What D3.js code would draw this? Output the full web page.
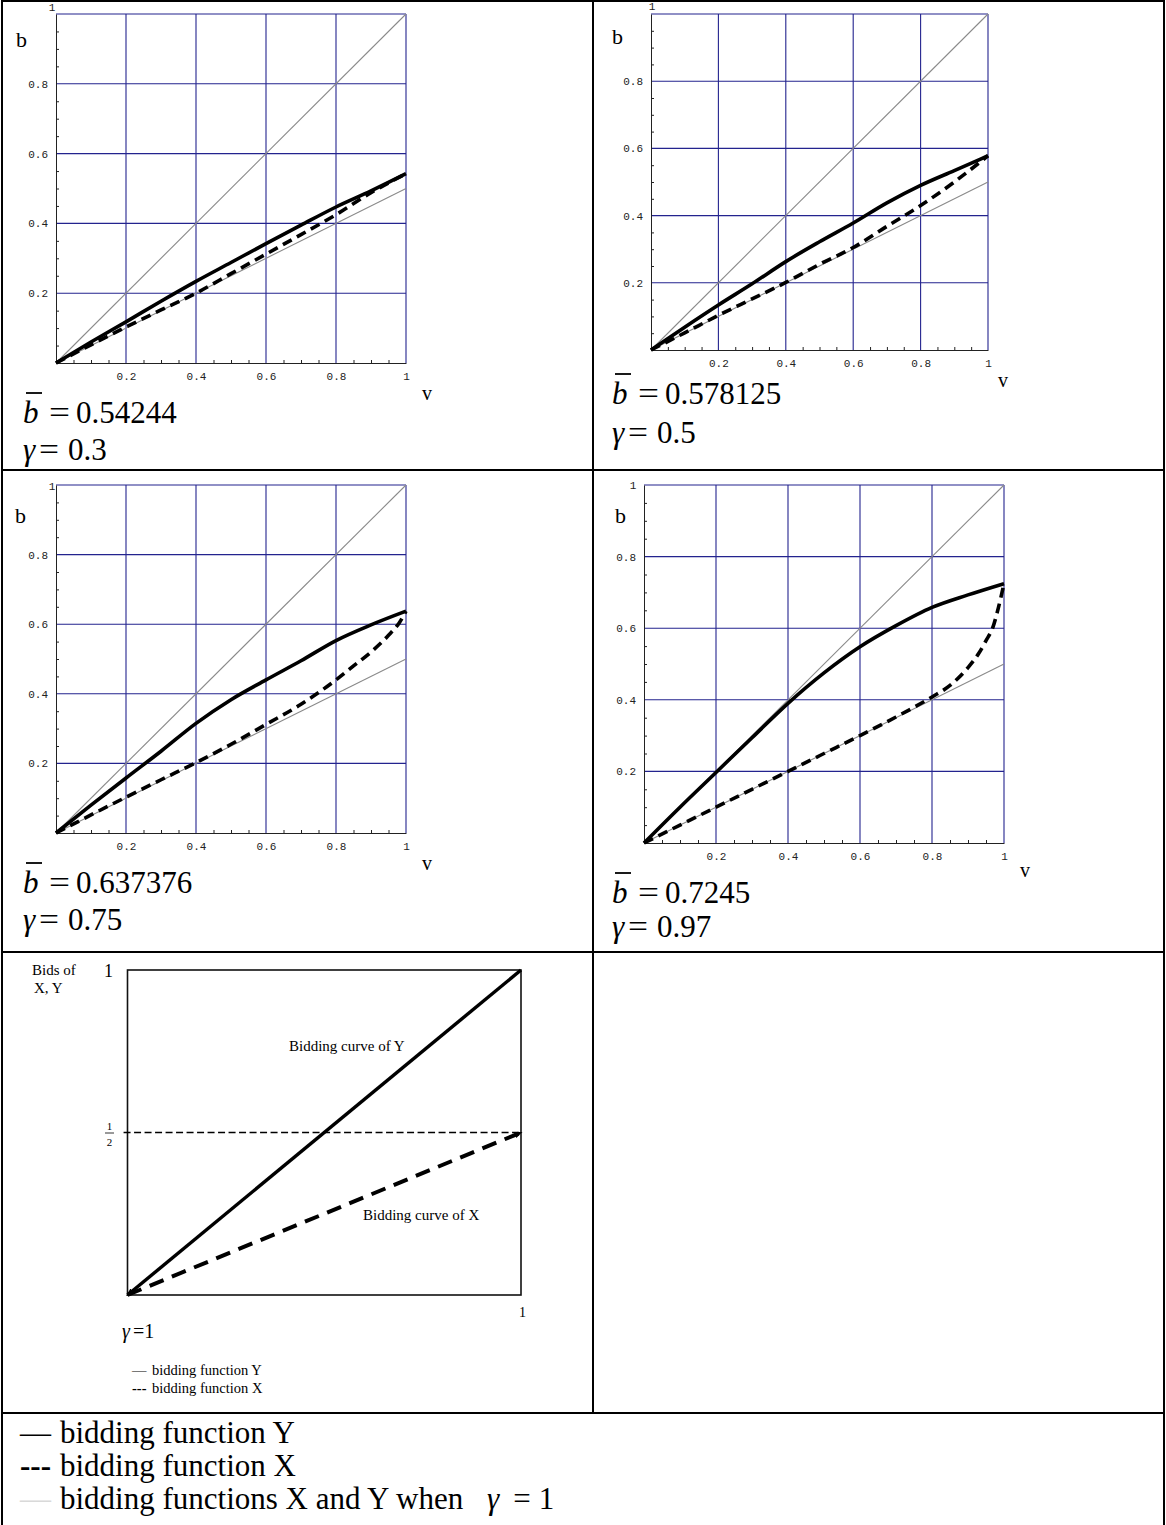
<!DOCTYPE html>
<html>
<head>
<meta charset="utf-8">
<script src="https://cdn.jsdelivr.net/npm/d3@7"></script>
<style>
body { margin: 0; background: #fff; }
svg text { font-family: "Liberation Serif", "Times New Roman", serif; fill: #000; }
.lbl text { font-family: "Liberation Mono", "Courier New", monospace; font-size: 11px; fill: #222; }
</style>
</head>
<body>
<svg id="chart" width="1166" height="1525"></svg>
<script>
// values
var gammaValues = ["0.3", "0.5", "0.75", "0.97"];
var bBarValues = ["0.54244", "0.578125", "0.637376", "0.7245"];

var majorTicks = [0.2, 0.4, 0.6, 0.8, 1];
var tickLabels = ["0.2", "0.4", "0.6", "0.8", "1"];
var minorTicks = [0.05, 0.1, 0.15, 0.25, 0.3, 0.35, 0.45, 0.5, 0.55, 0.65, 0.7, 0.75, 0.85, 0.9, 0.95];

// reference lines (gamma = 1): Y bids v, X bids v/2
var refY = [[0, 0], [1, 1]];
var refX = [[0, 0], [1, 0.5]];

var bidY_g030 = [[0,0],[0.1,0.06],[0.2,0.118],[0.3,0.177],[0.4,0.234],[0.5,0.288],[0.6,0.342],[0.7,0.395],[0.8,0.447],[0.9,0.493],[1,0.5424]];
var bidX_g030 = [[0,0],[0.1,0.052],[0.2,0.103],[0.3,0.152],[0.4,0.2],[0.5,0.256],[0.6,0.312],[0.7,0.368],[0.8,0.425],[0.9,0.488],[1,0.5424]];

var bidY_g050 = [[0,0],[0.1,0.068],[0.2,0.134],[0.3,0.197],[0.4,0.263],[0.5,0.322],[0.6,0.378],[0.7,0.438],[0.8,0.49],[0.9,0.534],[1,0.5781]];
var bidX_g050 = [[0,0],[0.1,0.051],[0.2,0.103],[0.3,0.152],[0.4,0.201],[0.5,0.255],[0.6,0.305],[0.7,0.368],[0.8,0.43],[0.9,0.5],[1,0.5781]];

var bidY_g075 = [[0,0],[0.1,0.08],[0.2,0.158],[0.3,0.235],[0.4,0.315],[0.5,0.383],[0.6,0.44],[0.7,0.495],[0.8,0.553],[0.9,0.598],[1,0.6374]];
var bidX_g075 = [[0,0],[0.1,0.052],[0.2,0.103],[0.3,0.153],[0.4,0.202],[0.5,0.255],[0.6,0.312],[0.7,0.37],[0.8,0.44],[0.85,0.48],[0.9,0.52],[0.95,0.568],[0.98,0.603],[1,0.6374]];

var bidY_g097 = [[0,0],[0.1,0.1],[0.2,0.197],[0.3,0.294],[0.4,0.39],[0.5,0.475],[0.6,0.548],[0.7,0.607],[0.8,0.658],[0.9,0.693],[1,0.7245]];
var bidX_g097 = [[0,0],[0.1,0.05],[0.2,0.1],[0.3,0.15],[0.4,0.2],[0.5,0.25],[0.6,0.3],[0.7,0.352],[0.8,0.408],[0.85,0.44],[0.9,0.49],[0.93,0.53],[0.95,0.565],[0.97,0.605],[0.98,0.64],[0.99,0.68],[1,0.7245]];

var bidsY = [bidY_g030, bidY_g050, bidY_g075, bidY_g097];
var bidsX = [bidX_g030, bidX_g050, bidX_g075, bidX_g097];

// gamma = 1 sketch
var limitY = [[0, 0], [1, 1]];
var limitX = [[0, 0], [1, 0.5]];
var halfLevel = [[-0.01, 0.5], [1, 0.5]];

var legendLabels = ["bidding function Y", "bidding function X", "bidding functions X and Y when"];

// layout of the table cells
var panelBoxes = [
	{left: 56, right: 406, bottom: 363, top: 14, one: [52, 7], b: [16, 47], v: [422, 400], eqX: 23, eqBase: 423, gBase: 460},
	{left: 651, right: 988, bottom: 350, top: 14, one: [652, 6], b: [612, 44], v: [998, 387], eqX: 612, eqBase: 404, gBase: 443},
	{left: 56, right: 406, bottom: 833, top: 485, one: [52, 486], b: [15, 523], v: [422, 870], eqX: 23, eqBase: 893, gBase: 930},
	{left: 644, right: 1004, bottom: 843, top: 485, one: [633, 485], b: [615, 523], v: [1020, 877], eqX: 612, eqBase: 903, gBase: 937}
];
var gridColor = "#23238e";

var svg = d3.select("#chart");

var drawPanel = function(i) {
	var p = panelBoxes[i];
	var x = d3.scaleLinear().domain([0, 1]).range([p.left, p.right]);
	var y = d3.scaleLinear().domain([0, 1]).range([p.bottom, p.top]);
	var g = svg.append("g");
	var line = d3.line().x(function(d) {return x(d[0]);}).y(function(d) {return y(d[1]);});
	var curve = d3.line().curve(d3.curveMonotoneX).x(function(d) {return x(d[0]);}).y(function(d) {return y(d[1]);});

	g.selectAll("line.gv").data(majorTicks).enter().append("line")
		.attr("x1", function(d) {return x(d);}).attr("x2", function(d) {return x(d);})
		.attr("y1", y(0)).attr("y2", y(1))
		.attr("stroke", gridColor).attr("stroke-width", 1.1);
	g.selectAll("line.gh").data(majorTicks).enter().append("line")
		.attr("y1", function(d) {return y(d);}).attr("y2", function(d) {return y(d);})
		.attr("x1", x(0)).attr("x2", x(1))
		.attr("stroke", gridColor).attr("stroke-width", 1.1);

	// axes with inward minor ticks
	g.append("g").attr("transform", "translate(" + x(0) + ",0)")
		.call(d3.axisRight(y).tickValues(minorTicks).tickSize(3).tickSizeOuter(0).tickFormat(""))
		.call(function(a) {a.selectAll("path,line").attr("stroke", "#222");});
	g.append("g").attr("transform", "translate(0," + y(0) + ")")
		.call(d3.axisTop(x).tickValues(minorTicks).tickSize(3).tickSizeOuter(0).tickFormat(""))
		.call(function(a) {a.selectAll("path,line").attr("stroke", "#222");});

	// tick labels
	g.append("g").attr("class", "lbl").attr("transform", "translate(" + x(0) + ",0)")
		.call(d3.axisLeft(y).tickValues(majorTicks.slice(0, 4)).tickSize(0).tickPadding(8)
			.tickFormat(function(d, k) {return tickLabels[k];}))
		.call(function(a) {a.select(".domain").remove(); a.attr("font-family", null).attr("font-size", null);});
	g.append("g").attr("class", "lbl").attr("transform", "translate(0," + y(0) + ")")
		.call(d3.axisBottom(x).tickValues(majorTicks).tickSize(0).tickPadding(9)
			.tickFormat(function(d, k) {return tickLabels[k];}))
		.call(function(a) {a.select(".domain").remove(); a.attr("font-family", null).attr("font-size", null);});
	g.append("g").attr("class", "lbl").append("text")
		.attr("x", p.one[0]).attr("y", p.one[1]).attr("text-anchor", "middle").attr("dy", "0.32em")
		.text(tickLabels[4]);

	// gamma = 1 reference bids
	[refY, refX].forEach(function(r) {
		g.append("path").attr("d", line(r)).attr("fill", "none").attr("stroke", "#8a8a8a").attr("stroke-width", 1.1);
	});

	g.append("path").attr("d", curve(bidsY[i])).attr("fill", "none")
		.attr("stroke", "#000").attr("stroke-width", 3.6).attr("stroke-linejoin", "round");
	g.append("path").attr("d", curve(bidsX[i])).attr("fill", "none")
		.attr("stroke", "#000").attr("stroke-width", 3.6).attr("stroke-dasharray", "10,6");

	g.append("text").attr("x", p.b[0]).attr("y", p.b[1]).attr("font-size", 22).text("b");
	g.append("text").attr("x", p.v[0]).attr("y", p.v[1]).attr("font-size", 20).text("v");

	// b-bar and gamma captions
	g.append("text").attr("x", p.eqX).attr("y", p.eqBase).attr("font-size", 31).attr("font-style", "italic").text("b");
	g.append("line").attr("x1", p.eqX + 3).attr("x2", p.eqX + 19)
		.attr("y1", p.eqBase - 30).attr("y2", p.eqBase - 30).attr("stroke", "#000").attr("stroke-width", 1.8);
	g.append("text").attr("x", p.eqX + 26).attr("y", p.eqBase).attr("font-size", 31)
		.attr("textLength", 21).attr("lengthAdjust", "spacingAndGlyphs").text("=");
	g.append("text").attr("x", p.eqX + 53).attr("y", p.eqBase).attr("font-size", 31).text(bBarValues[i]);
	g.append("text").attr("x", p.eqX).attr("y", p.gBase).attr("font-size", 31).attr("font-style", "italic").text("γ");
	g.append("text").attr("x", p.eqX + 16).attr("y", p.gBase).attr("font-size", 31)
		.attr("textLength", 20).attr("lengthAdjust", "spacingAndGlyphs").text("=");
	g.append("text").attr("x", p.eqX + 45).attr("y", p.gBase).attr("font-size", 31).text(gammaValues[i]);
};

var drawLimitPanel = function() {
	var x = d3.scaleLinear().domain([0, 1]).range([127.5, 521]);
	var y = d3.scaleLinear().domain([0, 1]).range([1295, 970]);
	var g = svg.append("g");
	var line = d3.line().x(function(d) {return x(d[0]);}).y(function(d) {return y(d[1]);});

	var defs = svg.append("defs");
	defs.append("marker").attr("id", "arrow").attr("viewBox", "0 0 10 10")
		.attr("refX", 8).attr("refY", 5).attr("markerUnits", "userSpaceOnUse")
		.attr("markerWidth", 8).attr("markerHeight", 8).attr("orient", "auto-start-reverse")
		.append("path").attr("d", "M0,1L10,5L0,9z").attr("fill", "#000");

	g.append("rect").attr("x", x(0)).attr("y", y(1)).attr("width", x(1) - x(0)).attr("height", y(0) - y(1))
		.attr("fill", "none").attr("stroke", "#111").attr("stroke-width", 1.6);

	g.append("path").attr("d", line(halfLevel)).attr("fill", "none")
		.attr("stroke", "#000").attr("stroke-width", 1.6).attr("stroke-dasharray", "7,3.5");
	g.append("path").attr("d", line(limitY)).attr("fill", "none")
		.attr("stroke", "#000").attr("stroke-width", 3.4).attr("marker-start", "url(#arrow)");
	g.append("path").attr("d", line(limitX)).attr("fill", "none")
		.attr("stroke", "#000").attr("stroke-width", 4).attr("stroke-dasharray", "15,9").attr("marker-end", "url(#arrow)");

	g.append("text").attr("x", 32).attr("y", 975).attr("font-size", 15).text("Bids of");
	g.append("text").attr("x", 34).attr("y", 993).attr("font-size", 15).text("X, Y");
	g.append("text").attr("x", 104).attr("y", 977).attr("font-size", 18).text("1");
	g.append("text").attr("x", x(1) - 2).attr("y", 1317).attr("font-size", 14).text("1");
	g.append("text").attr("x", 109.5).attr("y", 1130).attr("font-size", 11).attr("text-anchor", "middle").text("1");
	g.append("line").attr("x1", 105).attr("x2", 114).attr("y1", y(0.5) + 0.5).attr("y2", y(0.5) + 0.5)
		.attr("stroke", "#000").attr("stroke-width", 0.8);
	g.append("text").attr("x", 109.5).attr("y", 1146).attr("font-size", 11).attr("text-anchor", "middle").text("2");

	g.append("text").attr("x", 289).attr("y", 1051).attr("font-size", 15).text("Bidding curve of Y");
	g.append("text").attr("x", 363).attr("y", 1220).attr("font-size", 15).text("Bidding curve of X");

	var gl = g.append("text").attr("x", 122).attr("y", 1338).attr("font-size", 20);
	gl.append("tspan").attr("font-style", "italic").text("γ");
	gl.append("tspan").attr("dx", 3).text("=1");

	g.append("text").attr("x", 132).attr("y", 1375).attr("font-size", 14.5).text("—");
	g.append("text").attr("x", 152).attr("y", 1375).attr("font-size", 14.5).text(legendLabels[0]);
	g.append("text").attr("x", 132).attr("y", 1393).attr("font-size", 14.5).attr("font-weight", "bold").text("---");
	g.append("text").attr("x", 152).attr("y", 1393).attr("font-size", 14.5).text(legendLabels[1]);
};

var drawTable = function() {
	var g = svg.append("g").attr("stroke", "#000").attr("stroke-width", 2);
	var rows = [1, 470, 952, 1413];
	g.selectAll("line.row").data(rows).enter().append("line")
		.attr("x1", 1).attr("x2", 1165).attr("y1", function(d) {return d;}).attr("y2", function(d) {return d;});
	g.append("line").attr("x1", 2).attr("x2", 2).attr("y1", 0).attr("y2", 1525);
	g.append("line").attr("x1", 1164).attr("x2", 1164).attr("y1", 0).attr("y2", 1525);
	g.append("line").attr("x1", 593).attr("x2", 593).attr("y1", 0).attr("y2", 1413);
};

var drawLegend = function() {
	var g = svg.append("g").attr("font-size", 31);
	var base = [1443, 1476, 1509];
	g.append("text").attr("x", 20).attr("y", base[0]).text("—");
	g.append("text").attr("x", 20).attr("y", base[1]).attr("font-weight", "bold").text("---");
	g.append("text").attr("x", 20).attr("y", base[2]).style("fill", "#d9d9d9").text("—");
	g.selectAll("text.lg").data(legendLabels).enter().append("text")
		.attr("x", 60).attr("y", function(d, k) {return base[k];}).text(function(d) {return d;});
	var last = g.append("text").attr("x", 487).attr("y", base[2]);
	last.append("tspan").attr("font-style", "italic").text("γ");
	last.append("tspan").attr("dx", 14).text("=");
	last.append("tspan").attr("dx", 8).text("1");
};

[0, 1, 2, 3].forEach(drawPanel);
drawLimitPanel();
drawLegend();
drawTable();
</script>
</body>
</html>
